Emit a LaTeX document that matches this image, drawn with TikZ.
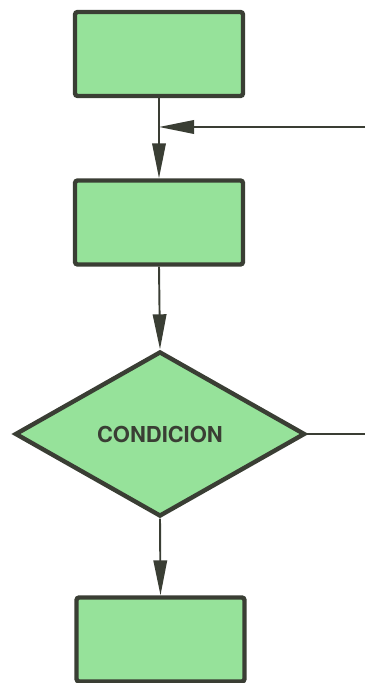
\documentclass[tikz,border=0pt]{standalone}
\usepackage{fontspec}
\setsansfont{TeX Gyre Heros}
\usetikzlibrary{arrows.meta}
\usetikzlibrary{shapes.geometric}
\usetikzlibrary{positioning}
\definecolor{boxgreen}{RGB}{150,226,154}
\definecolor{inkdark}{RGB}{58,62,52}
\tikzset{
    process/.style={draw=inkdark, fill=boxgreen, line width=2.5pt, rounded corners=1.5pt,
        minimum width=3.36cm, minimum height=1.68cm, inner sep=0pt},
    decision/.style={diamond, draw=inkdark, fill=boxgreen, line width=2.5pt,
        minimum width=5.8cm, minimum height=3.3cm, inner sep=0pt,
        font=\sffamily\bfseries\fontsize{12.5}{14}\selectfont, text=inkdark},
    flow/.style={draw=inkdark, line width=1.1pt, -{Triangle[length=7mm,width=2.7mm]}},
    flownoarrow/.style={draw=inkdark, line width=1.1pt},
}

\begin{document}
\begin{tikzpicture}
\useasboundingbox (0,0) rectangle (7.3,13.66);
%BOXES
\node [process] (first) at (3.18,12.58) {};
\node [process] (second) at (3.18,9.21) {};
\node [decision] (cond) at (3.2,4.98) {CONDICION};
\node [process] (last) at (3.21,0.87) {};

%ENTRY FROM THE RIGHT
\coordinate (join) at (3.18,11.12);
\coordinate (back) at (7.3,11.12);
\coordinate (exit) at (7.3,4.98);

%CONNECTORS
\draw [flow] (first.south)--(second.north);
\draw [flow] (back)--(join);
\draw [flow] (second.south)--(cond.north);
\draw [flow] (cond.south)--(last.north);
\draw [flownoarrow] (cond.east)--(exit);
\end{tikzpicture}
\end{document}
